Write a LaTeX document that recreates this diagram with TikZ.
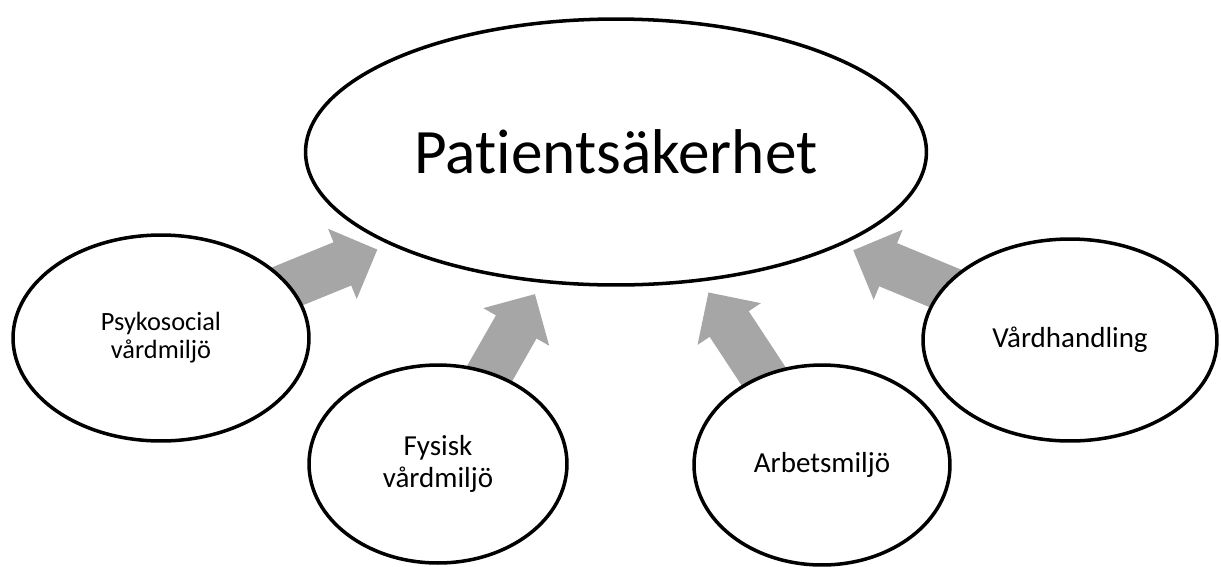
\documentclass[tikz,border=0pt]{standalone}
\usepackage{fontspec}
\setmainfont{Carlito}[Ligatures=NoCommon]
\usetikzlibrary{arrows.meta, shapes.geometric, backgrounds}
\definecolor{arrowgray}{HTML}{A6A6A6}
\definecolor{inkprimary}{HTML}{000000}

\begin{document}
\begin{tikzpicture}[
  x=0.02cm, y=-0.02cm,
  bubble/.style={ellipse, draw=inkprimary, line width=2pt, fill=white, inner sep=0pt, align=center, text=inkprimary},
  lbl/.style={font=\fontsize{16.5}{18}\selectfont},
  feed/.style={draw=arrowgray, line width=26.6pt, -{Triangle[width=43pt, length=21.5pt, line width=1pt]}, shorten >=7.4pt}
]
\useasboundingbox (0,0) rectangle (1221,566);
\clip (0,0) rectangle (1221,566);

\node[bubble, minimum width=12.42cm, minimum height=5.32cm, font=\fontsize{36}{43}\selectfont] (pat) at (616,152) {Patientsäkerhet};
\node[bubble, minimum width=5.92cm, minimum height=4.12cm, font=\fontsize{15}{16}\selectfont] (psyko) at (161,338) {Psykosocial\\vårdmiljö};
\node[bubble, lbl, minimum width=5.16cm, minimum height=3.96cm] (fysisk) at (438,464) {Fysisk\\vårdmiljö};
\node[bubble, lbl, minimum width=5.12cm, minimum height=4.0cm] (arbets) at (822,465) {Arbetsmiljö};
\node[bubble, lbl, minimum width=5.88cm, minimum height=4.04cm] (vard) at (1070,340) {Vårdhandling};

% grey arrows sit behind the bubbles
\begin{scope}[on background layer]
\draw[feed] (psyko.center) -- (pat);
\draw[feed] (fysisk.center) -- (pat);
\draw[feed] (arbets.center) -- (pat);
\draw[feed] (vard.center) -- (pat);
\end{scope}
\end{tikzpicture}
\end{document}
